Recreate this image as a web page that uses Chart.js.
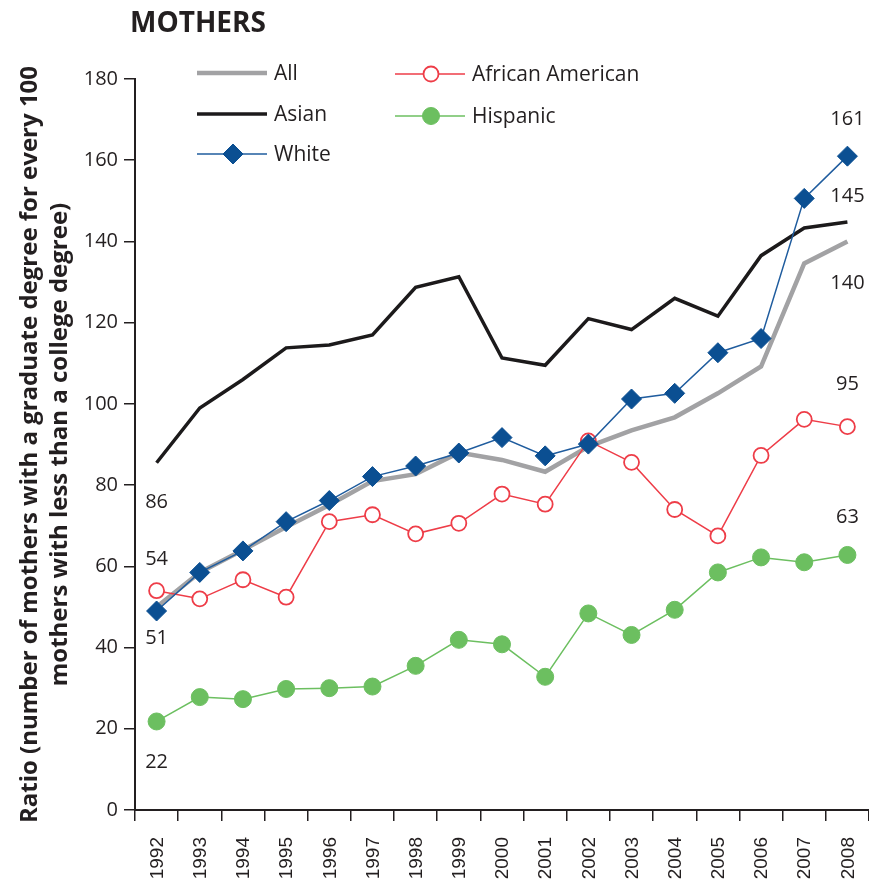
<!DOCTYPE html>
<html>
<head>
<meta charset="utf-8">
<script src="https://cdn.jsdelivr.net/npm/chart.js@4/dist/chart.umd.min.js"></script>
<style>
    html, body { margin: 0; padding: 0; background: #fff; }
    canvas { display: block; }
</style>
</head>
<body>
<canvas id="mothersChart" width="869" height="888"></canvas>
<script>
// data
const years = ['1992', '1993', '1994', '1995', '1996', '1997', '1998', '1999', '2000',
    '2001', '2002', '2003', '2004', '2005', '2006', '2007', '2008'];
const allValues = [50, 58.5, 64, 69.7, 75.1, 81, 82.7, 88, 86.2, 83.3, 89.5, 93.5, 96.7, 102.6, 109.2, 134.6, 140];
const asianValues = [85.5, 99, 106, 113.8, 114.5, 117, 128.7, 131.3, 111.3, 109.5, 121, 118.3, 126, 121.6, 136.5, 143.3, 144.8];
const whiteValues = [49, 58.5, 63.8, 71, 76.2, 82.1, 84.7, 87.9, 91.7, 87.2, 90.1, 101.2, 102.6, 112.6, 116.1, 150.6, 161];
const africanAmericanValues = [54, 52, 56.7, 52.4, 71, 72.7, 68, 70.6, 77.8, 75.3, 90.9, 85.6, 74, 67.5, 87.3, 96.2, 94.4];
const hispanicValues = [21.8, 27.8, 27.3, 29.8, 30, 30.4, 35.5, 41.9, 40.8, 32.8, 48.4, 43.1, 49.3, 58.5, 62.2, 61, 62.8];
const yTicks = [0, 20, 40, 60, 80, 100, 120, 140, 160, 180];
const startLabels = ['86', '54', '51', '22'];          // Asian, African American, White, Hispanic
const endLabels = ['161', '145', '140', '95', '63'];   // White, Asian, All, African American, Hispanic

const TEXT = '#231f20';
const FONT = '"Open Sans", "Noto Sans", sans-serif';

// index in datasets: 0 All, 1 Asian, 2 White, 3 African American, 4 Hispanic
const datasets = [
    {
        label: 'All', data: allValues, borderColor: '#a2a2a4', borderWidth: 4.5,
        pointRadius: 0, order: 4
    },
    {
        label: 'Asian', data: asianValues, borderColor: '#1c1a1b', borderWidth: 3.5,
        pointRadius: 0, order: 3
    },
    {
        label: 'White', data: whiteValues, borderColor: '#1f5c9e', borderWidth: 1.5,
        pointStyle: 'rectRot', pointRadius: 10, pointBackgroundColor: '#0b4f92',
        pointBorderColor: '#0b4f92', pointBorderWidth: 1, order: 0
    },
    {
        label: 'African American', data: africanAmericanValues, borderColor: '#ee3d48', borderWidth: 1.5,
        pointStyle: 'circle', pointRadius: 7.5, pointBackgroundColor: '#ffffff',
        pointBorderColor: '#ee3d48', pointBorderWidth: 1.8, order: 1
    },
    {
        label: 'Hispanic', data: hispanicValues, borderColor: '#6cbf60', borderWidth: 1.5,
        pointStyle: 'circle', pointRadius: 8.5, pointBackgroundColor: '#6cbf60',
        pointBorderColor: '#6cbf60', pointBorderWidth: 1, order: 2
    }
];

function drawMarker(ctx, ds, x, y) {
    if (!ds.pointRadius) return;
    const r = ds.pointRadius;
    ctx.beginPath();
    if (ds.pointStyle === 'rectRot') {
        ctx.moveTo(x, y - r);
        ctx.lineTo(x + r, y);
        ctx.lineTo(x, y + r);
        ctx.lineTo(x - r, y);
        ctx.closePath();
    } else {
        ctx.arc(x, y, r, 0, Math.PI * 2);
    }
    ctx.fillStyle = ds.pointBackgroundColor;
    ctx.fill();
    ctx.lineWidth = ds.pointBorderWidth;
    ctx.strokeStyle = ds.pointBorderColor;
    ctx.stroke();
}

const decorPlugin = {
    id: 'decor',
    afterDraw(chart) {
        const ctx = chart.ctx;
        const xs = chart.scales.x;
        const ys = chart.scales.y;
        const sets = chart.data.datasets;
        ctx.save();

        // title
        ctx.fillStyle = TEXT;
        ctx.font = 'bold 28px ' + FONT;
        ctx.textAlign = 'left';
        ctx.textBaseline = 'alphabetic';
        ctx.fillText('MOTHERS', 130, 32);

        // year labels, read bottom to top
        ctx.font = '19px "Liberation Sans", Arial, sans-serif';
        ctx.textAlign = 'right';
        ctx.textBaseline = 'middle';
        chart.data.labels.forEach((yr, i) => {
            ctx.save();
            ctx.translate(xs.getPixelForValue(i), xs.top + 27);
            ctx.rotate(-Math.PI / 2);
            ctx.fillText(yr, 0, 1);
            ctx.restore();
        });

        // legend, two columns
        const legendItems = [
            { ds: 0, x: 197, y: 73 },
            { ds: 1, x: 197, y: 114 },
            { ds: 2, x: 197, y: 154 },
            { ds: 3, x: 395, y: 74 },
            { ds: 4, x: 395, y: 116 }
        ];
        legendItems.forEach(item => {
            const ds = sets[item.ds];
            ctx.beginPath();
            ctx.moveTo(item.x, item.y);
            ctx.lineTo(item.x + 70, item.y);
            ctx.lineWidth = ds.borderWidth;
            ctx.strokeStyle = ds.borderColor;
            ctx.stroke();
            drawMarker(ctx, ds, item.x + 36, item.y);
            ctx.fillStyle = TEXT;
            ctx.font = '21px ' + FONT;
            ctx.textAlign = 'left';
            ctx.textBaseline = 'middle';
            ctx.fillText(ds.label, item.x + 77, item.y + 1);
        });

        // value labels at both ends
        const placed = [
            { ds: 1, idx: 0, text: startLabels[0], dy: 40 },
            { ds: 3, idx: 0, text: startLabels[1], dy: -31 },
            { ds: 2, idx: 0, text: startLabels[2], dy: 27 },
            { ds: 4, idx: 0, text: startLabels[3], dy: 41 },
            { ds: 2, idx: 16, text: endLabels[0], dy: -37 },
            { ds: 1, idx: 16, text: endLabels[1], dy: -26 },
            { ds: 0, idx: 16, text: endLabels[2], dy: 42 },
            { ds: 3, idx: 16, text: endLabels[3], dy: -42 },
            { ds: 4, idx: 16, text: endLabels[4], dy: -38 }
        ];
        ctx.fillStyle = TEXT;
        ctx.font = '20px ' + FONT;
        ctx.textAlign = 'center';
        ctx.textBaseline = 'middle';
        placed.forEach(p => {
            const px = xs.getPixelForValue(p.idx);
            const py = ys.getPixelForValue(sets[p.ds].data[p.idx]);
            ctx.fillText(p.text, px, py + p.dy);
        });
        ctx.restore();
    }
};

const ctx = document.getElementById('mothersChart').getContext('2d');
const mothersChart = new Chart(ctx, {
    type: 'line',
    data: { labels: years, datasets: datasets },
    options: {
        responsive: false,
        animation: false,
        layout: { autoPadding: false, padding: { top: 79, right: 0, bottom: 0, left: 0 } },
        elements: { line: { tension: 0 } },
        plugins: {
            legend: { display: false },
            tooltip: { enabled: false }
        },
        scales: {
            x: {
                type: 'category',
                offset: true,
                afterFit: function (scale) { scale.height = 78; },
                border: { display: true, color: TEXT, width: 2 },
                grid: {
                    offset: true, drawOnChartArea: false, drawTicks: true,
                    tickLength: 11, color: TEXT, lineWidth: 1.5
                },
                ticks: { display: false }
            },
            y: {
                min: 0,
                max: 180,
                afterFit: function (scale) { scale.width = 135; },
                afterBuildTicks: function (scale) {
                    scale.ticks = yTicks.map(v => ({ value: v }));
                },
                border: { display: true, color: TEXT, width: 2 },
                grid: {
                    drawOnChartArea: false, drawTicks: true,
                    tickLength: 11, color: TEXT, lineWidth: 1.5
                },
                ticks: {
                    color: TEXT, padding: 6,
                    font: { family: FONT, size: 20 }
                },
                title: {
                    display: true,
                    text: ['Ratio (number of mothers with a graduate degree for every 100',
                        'mothers with less than a college degree)'],
                    color: TEXT,
                    padding: { top: 15, bottom: 0 },
                    font: { family: FONT, size: 24, weight: 'bold', lineHeight: 1.25 }
                }
            }
        }
    },
    plugins: [decorPlugin]
});
</script>
</body>
</html>
